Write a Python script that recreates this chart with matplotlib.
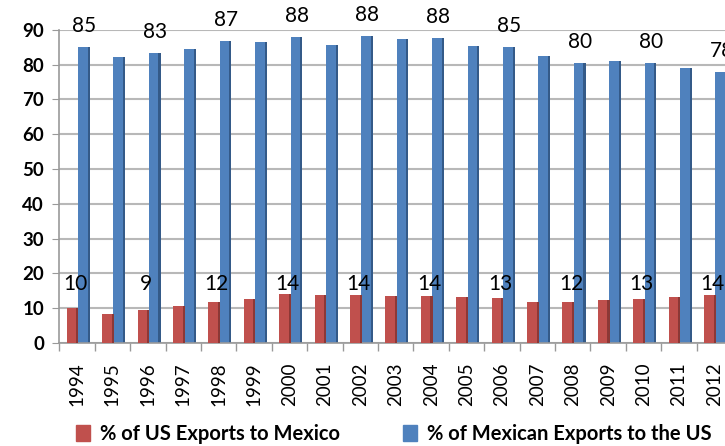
import matplotlib.pyplot as plt
import numpy as np

years = ['1994', '1995', '1996', '1997', '1998', '1999', '2000', '2001', '2002', '2003',
         '2004', '2005', '2006', '2007', '2008', '2009', '2010', '2011', '2012']
us_to_mexico = [10, 8.3, 9.4, 10.6, 11.8, 12.6, 14, 13.7, 13.8, 13.4,
                13.5, 13.2, 12.9, 11.7, 11.7, 12.3, 12.6, 13.2, 13.8]
mexico_to_us = [85, 82.1, 83.3, 84.4, 86.7, 86.6, 88, 85.7, 88.3, 87.4,
                87.6, 85.4, 85, 82.4, 80.4, 81, 80.4, 79, 78]
# only every other year carries a data label in the original
label_years = ['1994', '1996', '1998', '2000', '2002', '2004', '2006', '2008', '2010', '2012']

red = '#C0504D'
red_dark = '#8C3836'
blue = '#4F81BD'
blue_dark = '#345A88'

plt.rcParams['font.family'] = ['Lato', 'DejaVu Sans']

fig = plt.figure(figsize=(7.25, 4.46), dpi=100)
ax = fig.add_axes([0.0818, 0.231, 0.928, 0.702])

x = np.arange(len(years))
w = 0.28
side = 0.06
ax.bar(x - 0.15, us_to_mexico, width=w, color=red, zorder=3)
ax.bar(x - 0.15 + w / 2 + side / 2 - 0.01, us_to_mexico, width=side, color=red_dark, zorder=3)
ax.bar(x + 0.17, mexico_to_us, width=w, color=blue, zorder=2)
ax.bar(x + 0.17 + w / 2 + side / 2 - 0.01, mexico_to_us, width=side, color=blue_dark, zorder=2)

for i, yr in enumerate(years):
    if yr in label_years:
        ax.text(x[i] - 0.05, 17, f'{us_to_mexico[i]:.0f}', ha='center', va='center',
                fontsize=15, zorder=5)
        ax.text(x[i] + 0.2, mexico_to_us[i] + 6, f'{mexico_to_us[i]:.0f}', ha='center',
                va='center', fontsize=15, zorder=5, clip_on=False)

ax.set_xlim(-0.5, 18.5)
ax.set_ylim(0, 90)
ax.set_yticks(range(0, 91, 10))
ax.set_xticks(x)
ax.set_xticklabels(years, rotation=90, fontsize=13.5)
ax.set_xticks(np.arange(-0.5, 18.6, 1), minor=True)
ax.tick_params(axis='x', which='major', length=0, pad=14)
ax.tick_params(axis='x', which='minor', length=6, color='#999999', width=1)
ax.tick_params(axis='y', length=5, color='#999999', labelsize=13.5, pad=6)
for lab in ax.get_yticklabels():
    lab.set_fontweight('bold')

ax.grid(axis='y', color='#b8b8b8', linewidth=1.5, zorder=0)
for s in ['top', 'right']:
    ax.spines[s].set_visible(False)
ax.spines['left'].set_color('#999999')
ax.spines['bottom'].set_color('#999999')
ax.spines['left'].set_linewidth(1.2)
ax.spines['bottom'].set_linewidth(1.2)

handles = [plt.Rectangle((0, 0), 1, 1, color=red), plt.Rectangle((0, 0), 1, 1, color=blue)]
fig.legend(handles, ['% of US Exports to Mexico', '% of Mexican Exports to the US'],
           loc='center left', bbox_to_anchor=(0.08, 0.027), ncol=2, frameon=False,
           prop={'size': 14.5, 'weight': 'bold'}, handlelength=0.7, handleheight=0.9,
           handletextpad=0.5, columnspacing=3.1)

fig.savefig('out.png', dpi=100)
